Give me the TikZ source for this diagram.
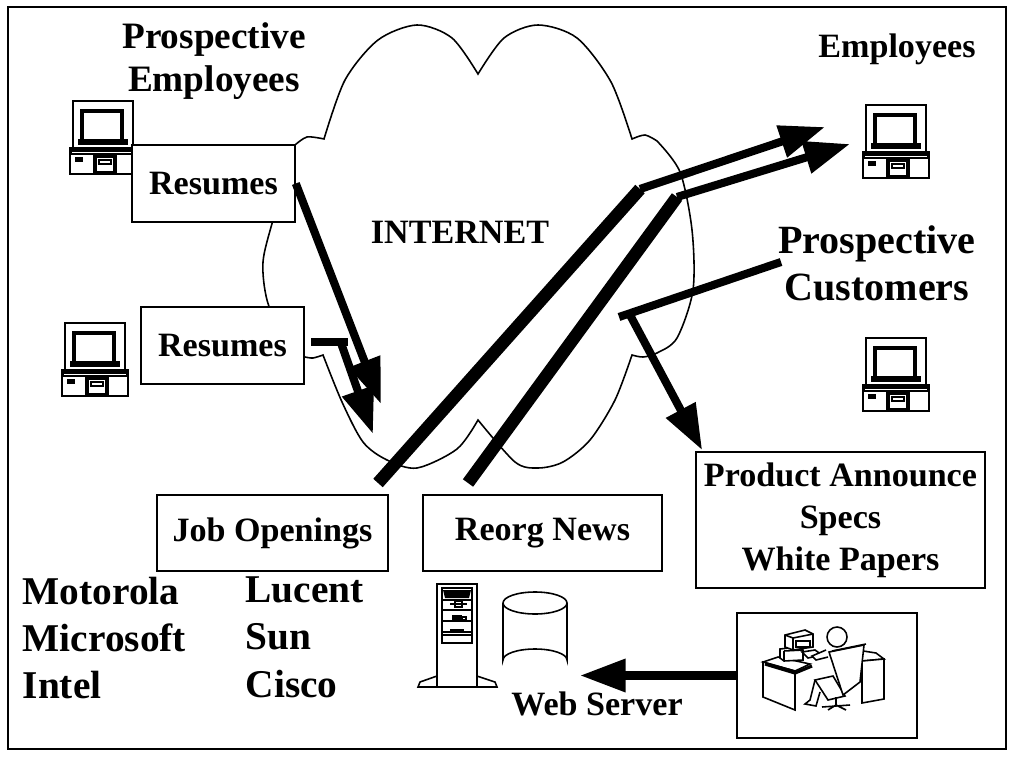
\documentclass[tikz,border=0pt]{standalone}
\usepackage{fontspec}
\setmainfont{Liberation Serif}
\usetikzlibrary{positioning,arrows.meta,calc}

\tikzset{
  net/thin/.style    ={line width=0.45pt},
  net/box/.style     ={draw, net/thin, fill=white, inner sep=0pt,
                       font=\fontsize{9.7}{12}\selectfont\bfseries, align=center},
  net/label/.style   ={font=\fontsize{9.7}{12}\selectfont\bfseries, align=center, inner sep=0pt},
  net/toplabel/.style={font=\fontsize{10.6}{12.4}\selectfont\bfseries, align=center, inner sep=0pt},
  net/biglabel/.style={font=\fontsize{11.4}{13.4}\selectfont\bfseries, align=center, inner sep=0pt},
  net/firms/.style   ={font=\fontsize{11.2}{13.5}\selectfont\bfseries, align=left,
                       inner sep=0pt, anchor=north west},
  net/arr/.style     ={-{Triangle[length=13pt, width=9pt]}, line width=2.3pt},
  net/bar/.style     ={line width=2.3pt},
  net/trunk/.style   ={line width=3.6pt},
  % desktop computer, origin at the top left corner of the monitor
  pics/pc/.style={code={
    \draw[line width=0.8pt, fill=white] (3,0) rectangle (63,47);
    \draw[line width=1.3pt] (12,10) rectangle (52,40);
    \draw[line width=1.5pt] (8,41) -- (58,41);
    \draw[line width=0.8pt, fill=white] (0,47) rectangle (66,73);
    \fill (0,47) rectangle (66,54);
    \draw[white, line width=0.3pt] (2,51.5) -- (64,51.5);
    \fill (5,56) rectangle (13,61);
    \draw[line width=1pt] (25,55) rectangle (45,72);
    \fill (28,58) rectangle (42,64);
    \draw[white, line width=0.4pt] (30,61) -- (40,61);
    \draw[white, line width=0.4pt] (31,67) -- (39,67);
  }},
}

\begin{document}
\begin{tikzpicture}[x=0.1mm, y=-0.1mm]
  \useasboundingbox (0,0) rectangle (1013,756);
  \draw[net/thin] (8,7) rectangle (1006,749);

  % --- the internet cloud ---
  \filldraw[net/thin, fill=white]
       plot[smooth] coordinates {(324,139) (345,80) (378,40) (417,25) (452,38) (478,74)}
    -- plot[smooth] coordinates {(478,74) (504,38) (538,25) (577,38) (611,82) (632,139)}
    -- plot[smooth] coordinates {(632,139) (645,135) (657,141)}
    -- plot[smooth] coordinates {(657,141) (680,172) (692,230) (693,290) (677,338) (657,353) (643,357) (632,355)}
    -- plot[smooth] coordinates {(632,355) (615,400) (590,440) (563,462) (538,468) (515,462) (478,420)}
    -- plot[smooth] coordinates {(478,420) (457,449) (417,468) (387,460) (363,442) (342,402) (323,355)}
    -- plot[smooth] coordinates {(323,355) (313,358) (305,357)}
    -- plot[smooth] coordinates {(305,357) (282,334) (267,300) (263,262) (273,220) (295,145)}
    -- plot[smooth] coordinates {(295,145) (307,137) (324,139)}
    -- cycle;
  \node[net/label, anchor=base] (inet) at (460,243) {INTERNET};

  % --- people and their machines ---
  \node[net/toplabel] (prosEmp) at (214,61) {Prospective\\Employees};
  \node[net/label, anchor=base] (emp) at (897,58) {Employees};
  \node[net/biglabel] (cust) at (877,263) {Prospective\\Customers};
  \foreach \px/\py in {70/101, 62/323, 863/105, 863/338}
    \pic at (\px,\py) {pc};

  % --- boxes ---
  \node[net/box, minimum width=16.3mm, minimum height=7.7mm] (res1) at (213.5,183.5) {Resumes};
  \node[net/box, minimum width=16.3mm, minimum height=7.7mm] (res2) at (222.5,345.5) {Resumes};
  \node[net/box, minimum width=23.1mm, minimum height=7.6mm] (jobs) at (272.5,533) {Job Openings};
  \node[net/box, minimum width=23.9mm, minimum height=7.6mm] (reorg) at (542.5,533) {Reorg News};
  \node[net/box, minimum width=28.9mm, minimum height=13.6mm] (product) at (840.5,520)
       {Product Announce\\Specs\\White Papers};
  \node[draw, net/thin, minimum width=18mm, minimum height=12.5mm] (desk) at (827,675.5) {};

  % --- free ends of the connectors ---
  \coordinate (inA) at (381,404);
  \coordinate (res2bar) at (311,342);
  \coordinate (res2knee) at (348,342);
  \coordinate (res2turn) at (341,343);
  \coordinate (inB) at (373,434);
  \coordinate (jobsUp) at (378,483);
  \coordinate (jobsKnee) at (640,189);
  \coordinate (empTipA) at (825,127);
  \coordinate (reorgUp) at (468,483);
  \coordinate (reorgKnee) at (677,197);
  \coordinate (empTipB) at (850,144);
  \coordinate (custIn) at (781,262);
  \coordinate (custKnee) at (619,317);
  \coordinate (custTurn) at (630,315);
  \coordinate (srvIn) at (580,675.5);

  % --- connectors ---
  \draw[net/arr] (res1.east) -- (inA);
  \draw[net/bar] (res2bar) -- (res2knee);
  \draw[net/arr] (res2turn) -- (inB);
  \draw[net/trunk] (jobsUp) -- (jobsKnee);
  \draw[net/arr] (jobsKnee) -- (empTipA);
  \draw[net/trunk] (reorgUp) -- (reorgKnee);
  \draw[net/arr] (reorgKnee) -- (empTipB);
  \draw[net/bar] (custIn) -- (custKnee);
  \draw[net/arr] (custTurn) -- ($(product.north west)+(7,-1)$);
  \draw[net/arr] (desk.west) -- (srvIn);

  % --- web server: tower and disk ---
  \draw[net/thin, fill=white] (437,584) rectangle (477,687);
  \draw[net/thin] (437,676) -- (420,682) -- (418,687) -- (497,687) -- (495,682) -- (477,676);
  \draw[net/thin] (442,588) rectangle (472,643);
  \fill (443,590) -- (471,590) -- (469,598) -- (445,598) -- cycle;
  \foreach \yy in {600, 610, 621, 632, 635} \draw[net/thin] (443,\yy) -- (471,\yy);
  \draw[net/thin] (450,604) -- (467,604);
  \draw[net/thin] (455,601) rectangle (462,607);
  \fill (452,615) rectangle (462,620);
  \draw[net/thin] (462,617) rectangle (466,620);
  \draw[line width=0.7pt] (450,630) -- (464,630);
  \draw[net/thin, fill=white] (503,603) -- (503,660) arc[start angle=180, end angle=360,
        x radius=32, y radius=11] -- (567,603);
  \draw[net/thin, fill=white] (535,603) ellipse[x radius=32, y radius=11];
  \node[net/label, anchor=base] (srv) at (597,715) {Web Server};

  % --- person working at a desk ---
  \draw[net/thin, fill=white] (857,650) -- (876,653) -- (884,659) -- (862,661) -- cycle;
  \draw[net/thin, fill=white] (862,661) -- (884,659) -- (884,699) -- (862,703) -- cycle;
  \draw[net/thin, fill=white] (763,662) -- (778,657) -- (810,664) -- (795,671) -- cycle;
  \draw[net/thin, fill=white] (763,662) -- (795,671) -- (795,710) -- (763,697) -- cycle;
  \draw[line width=0.9pt] (765,664) -- (795,673) -- (812,666);
  \draw[net/thin, fill=white] (780,649) -- (798,647) -- (803,650) -- (803,660) -- (784,661) -- (780,658) -- cycle;
  \draw[net/thin] (784,651) -- (803,650) (784,651) -- (784,661);
  \draw[net/thin, fill=white] (785,635) -- (805,630) -- (813,634) -- (813,647) -- (793,650) -- (785,647) -- cycle;
  \draw[net/thin] (785,635) -- (793,638) -- (813,634) (793,638) -- (793,650);
  \draw[net/thin] (796,641) rectangle (810,647);
  \draw[net/thin, fill=white] (802,652) -- (815,650) -- (822,655) -- (808,658) -- cycle;
  \draw[net/thin, fill=white] (837,637) circle[radius=10];
  \draw[net/thin, fill=white] (826,650) -- (812,656) -- (816,660) -- (828,657);
  \draw[net/thin, fill=white] (815,680) -- (828,700) -- (845,696) -- (833,676) -- cycle;
  \draw[net/thin, fill=white] (829,652) -- (864,645) -- (860,682) -- (843,695) -- cycle;
  \draw[net/thin] (832,651) -- (866,644);
  \draw[net/thin] (815,680) -- (810,700) -- (805,704) -- (816,706) -- (820,692);
  \draw[net/thin] (836,697) -- (836,705) (822,707) -- (850,705) (836,705) -- (828,710) (836,705) -- (846,710);

  % --- companies ---
  \node[net/firms] (firmsA) at (22,576) {Motorola\\Microsoft\\Intel};
  \node[net/firms] (firmsB) at (245,576) {Lucent\\Sun\\Cisco};
\end{tikzpicture}
\end{document}
